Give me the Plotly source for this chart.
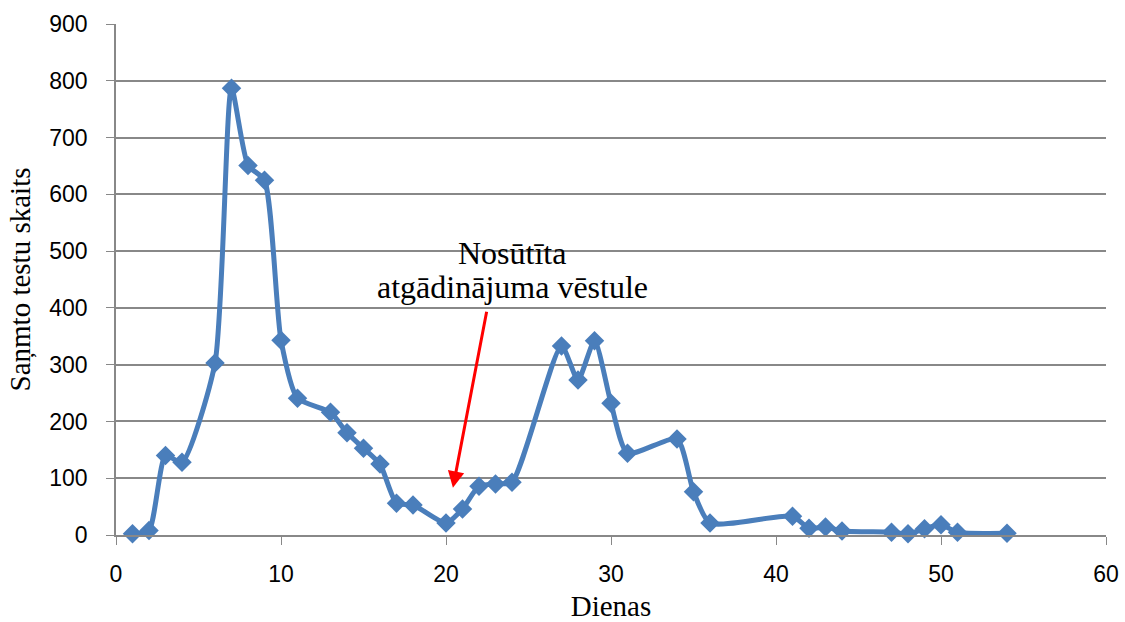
import plotly.graph_objects as go

days = [1, 2, 3, 4, 6, 7, 8, 9, 10, 11, 13, 14, 15, 16, 17, 18, 20, 21, 22, 23, 24,
        27, 28, 29, 30, 31, 34, 35, 36, 41, 42, 43, 44, 47, 48, 49, 50, 51, 54]
tests = [2, 8, 140, 128, 303, 787, 651, 625, 343, 241, 216, 180, 153, 125, 56, 53, 21, 46, 86, 90, 93,
         333, 273, 342, 232, 144, 169, 76, 21, 33, 12, 14, 7, 5, 2, 11, 18, 5, 3]

x_ticks = [0, 10, 20, 30, 40, 50, 60]
y_ticks = [0, 100, 200, 300, 400, 500, 600, 700, 800, 900]

note_lines = ["Nosūtīta", "atgādinājuma vēstule"]

fig = go.Figure()
fig.add_trace(go.Scatter(
    x=days, y=tests, mode="lines+markers",
    line=dict(color="#4A7EBB", width=5, shape="spline", smoothing=0.6),
    marker=dict(symbol="diamond", size=15, color="#4A7EBB"),
    showlegend=False, cliponaxis=False,
))

fig.add_annotation(
    x=20.42, y=83, xref="x", yref="y",
    ax=22.48, ay=396, axref="x", ayref="y",
    showarrow=True, arrowhead=2, arrowsize=1.1, arrowwidth=3, arrowcolor="#FF0000",
    text="",
)
fig.add_annotation(
    x=24.0, y=496, xref="x", yref="y", showarrow=False, yanchor="middle",
    text=note_lines[0],
    font=dict(family="Liberation Serif", size=32, color="black"),
)
fig.add_annotation(
    x=24.0, y=436, xref="x", yref="y", showarrow=False, yanchor="middle",
    text=note_lines[1],
    font=dict(family="Liberation Serif", size=32, color="black"),
)

fig.update_layout(
    width=1125, height=622,
    margin=dict(l=116, r=19, t=24, b=87),
    paper_bgcolor="white", plot_bgcolor="white",
    font=dict(family="Liberation Sans", color="black"),
)
fig.update_xaxes(
    range=[0, 60], tickvals=x_ticks, showgrid=False, zeroline=False,
    showline=True, linecolor="#888888", linewidth=1.5,
    ticks="outside", tickcolor="#888888", ticklen=8,
    ticklabelstandoff=10, automargin=False,
    tickfont=dict(size=23, family="Liberation Sans"),
    title=dict(text="Dienas", font=dict(family="Liberation Serif", size=29), standoff=12),
)
fig.update_yaxes(
    range=[0, 900], tickvals=y_ticks, showgrid=True, gridcolor="#888888", gridwidth=1.5,
    zeroline=False, showline=True, linecolor="#888888", linewidth=1.5,
    ticks="outside", tickcolor="#888888", ticklen=8,
    ticklabelstandoff=14, automargin=False,
    tickfont=dict(size=23, family="Liberation Sans"),
    title=dict(text="Saņmto testu skaits", font=dict(family="Liberation Serif", size=29), standoff=10),
)

fig.write_html("out.html")
